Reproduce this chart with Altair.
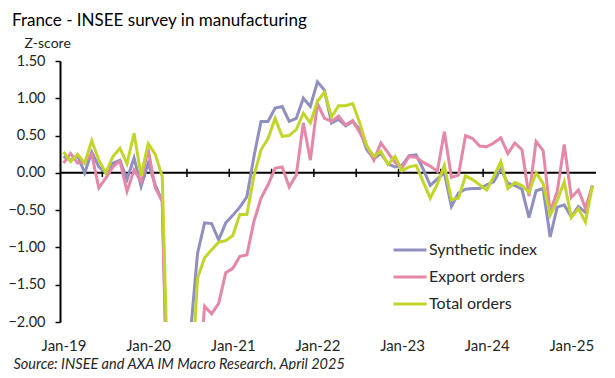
import json
import altair as alt
import pandas as pd

# Month categories (Jan-19 .. Apr-25)
months = pd.date_range("2019-01-01", periods=76, freq="MS").strftime("%b-%y").tolist()

synthetic = [0.22, 0.17, 0.23, 0.00, 0.28, 0.08, 0.00, 0.13, 0.17, -0.09, 0.20, -0.18,
             0.13, -0.16, -0.38, -4.0, -4.4, -3.5, -2.15, -1.08, -0.67, -0.68, -0.90, -0.67,
             -0.57, -0.46, -0.32, 0.22, 0.69, 0.69, 0.87, 0.89, 0.69, 0.73, 1.00, 0.89,
             1.22, 1.11, 0.67, 0.72, 0.63, 0.69, 0.58, 0.31, 0.19, 0.26, 0.12, 0.08,
             0.10, 0.23, 0.24, 0.05, -0.17, -0.08, 0.00, -0.45, -0.27, -0.22, -0.21, -0.21,
             -0.16, -0.12, 0.05, -0.14, -0.17, -0.22, -0.60, -0.24, -0.21, -0.86, -0.46, -0.43,
             -0.59, -0.45, -0.53, -0.17]

export = [0.13, 0.26, 0.13, 0.15, 0.25, -0.20, -0.07, 0.08, 0.16, -0.25, 0.04, -0.12,
          0.32, -0.20, -0.38, -4.4, -4.5, -4.0, -3.5, -3.0, -1.79, -1.89, -1.75, -1.34,
          -1.28, -1.12, -1.10, -0.65, -0.34, -0.16, 0.06, 0.08, -0.19, -0.03, 0.67, 0.17,
          0.93, 0.73, 0.69, 0.76, 0.64, 0.70, 0.54, 0.36, 0.17, 0.40, 0.27, 0.14,
          0.07, 0.22, 0.21, 0.14, 0.09, 0.02, 0.55, -0.06, -0.03, 0.50, 0.46, 0.36,
          0.35, 0.40, 0.47, 0.26, 0.40, 0.31, -0.31, 0.42, 0.30, -0.52, -0.25, 0.38,
          -0.33, -0.23, -0.47, -0.17]

total = [0.28, 0.15, 0.25, 0.13, 0.43, 0.17, 0.00, 0.22, 0.33, 0.12, 0.53, -0.04,
         0.39, 0.25, -0.05, -3.6, -4.2, -3.8, -3.1, -1.41, -1.14, -1.03, -0.93, -0.91,
         -0.84, -0.56, -0.56, -0.04, 0.31, 0.46, 0.73, 0.49, 0.50, 0.58, 0.80, 0.67,
         0.96, 1.08, 0.75, 0.90, 0.90, 0.93, 0.67, 0.36, 0.22, 0.29, 0.11, 0.22,
         0.03, 0.08, 0.10, -0.12, -0.34, -0.15, 0.10, -0.36, -0.34, -0.04, -0.09, -0.16,
         -0.23, -0.05, 0.15, -0.21, -0.13, -0.17, -0.26, 0.00, -0.14, -0.57, -0.37, -0.12,
         -0.60, -0.48, -0.66, -0.17]

series_names = ["Synthetic index", "Export orders", "Total orders"]
series_colors = ["#8f8fc0", "#e487a9", "#c2d52b"]

label_positions = [0, 12, 24, 36, 48, 60, 72]
tick_labels = ["Jan-19", "Jan-20", "Jan-21", "Jan-22", "Jan-23", "Jan-24", "Jan-25"]
tick_positions = [5.5, 11.5, 17.5, 23.5, 29.5, 35.5, 41.5, 47.5, 53.5, 59.5, 65.5, 71.5]
y_ticks = [1.5, 1.0, 0.5, 0.0, -0.5, -1.0, -1.5, -2.0]

rows = []
for name, vals in zip(series_names, [synthetic, export, total]):
    for i, v in enumerate(vals):
        rows.append({"i": i, "month": months[i], "series": name, "value": v})
df = pd.DataFrame(rows)

FONT = "Lato"
TXT = "#262626"

x_scale = alt.Scale(domain=[-0.5, 75.5], nice=False, zero=False)
y_scale = alt.Scale(domain=[-2.0, 1.5], nice=False, zero=False)

label_expr = json.dumps(tick_labels) + "[round(datum.value / 12)]"

x_axis = alt.Axis(
    values=label_positions,
    labelExpr=label_expr,
    domain=False,
    ticks=False,
    tickSize=0,
    grid=False,
    labelPadding=16,
    labelFont=FONT,
    labelFontSize=15,
    labelColor=TXT,
    title="Source: INSEE and AXA IM Macro Research, April 2025",
    titleX=-47,
    titleY=46,
    titleAlign="left",
    titleBaseline="alphabetic",
    titleFont=FONT,
    titleFontStyle="italic",
    titleFontWeight="normal",
    titleFontSize=14.5,
    titleColor=TXT,
)

y_axis = alt.Axis(
    values=y_ticks,
    format=".2f",
    grid=False,
    domainColor="black",
    domainWidth=2,
    tickColor="black",
    tickWidth=1.5,
    tickSize=5,
    labelPadding=10,
    labelFont=FONT,
    labelFontSize=14.5,
    labelColor=TXT,
    title="Z-score",
    titleAngle=0,
    titleX=-36,
    titleY=-14,
    titleAlign="left",
    titleBaseline="alphabetic",
    titleFont=FONT,
    titleFontWeight="normal",
    titleFontSize=14,
    titleColor=TXT,
)

zero_line = alt.Chart(pd.DataFrame({"y": [0.0]})).mark_rule(
    color="black", strokeWidth=2
).encode(y=alt.Y("y:Q", scale=y_scale, axis=y_axis))

ticks = alt.Chart(pd.DataFrame({"x": tick_positions})).mark_rule(
    color="black", strokeWidth=1.5
).encode(
    x=alt.X("x:Q", scale=x_scale, axis=x_axis),
    y=alt.datum(-0.055, axis=y_axis),
    y2=alt.datum(0.055),
)

lines = alt.Chart(df).mark_line(clip=True, strokeWidth=3).encode(
    x=alt.X("i:Q", scale=x_scale, axis=x_axis),
    y=alt.Y("value:Q", scale=y_scale, axis=y_axis),
    color=alt.Color(
        "series:N",
        scale=alt.Scale(domain=series_names, range=series_colors),
        legend=alt.Legend(
            title=None,
            orient="none",
            legendX=340,
            legendY=179,
            symbolType="M-2,0H2",
            symbolSize=272,
            symbolStrokeWidth=3,
            labelFont=FONT,
            labelFontSize=16,
            labelColor=TXT,
            labelOffset=9,
            rowPadding=9,
            padding=0,
        ),
    ),
)

chart = alt.layer(zero_line, ticks, lines).properties(
    width=536,
    height=261,
    padding={"left": 52, "top": 53, "right": 11, "bottom": 48},
    autosize=alt.AutoSizeParams(type="none"),
    title=alt.TitleParams(
        text="France - INSEE survey in manufacturing",
        anchor="start",
        frame="group",
        dx=-48,
        offset=6,
        font=FONT,
        fontSize=17,
        fontWeight="normal",
        color="black",
    ),
).configure(background="white").configure_view(stroke=None)

chart.save("out.html", embed_options={"renderer": "svg", "actions": False})
